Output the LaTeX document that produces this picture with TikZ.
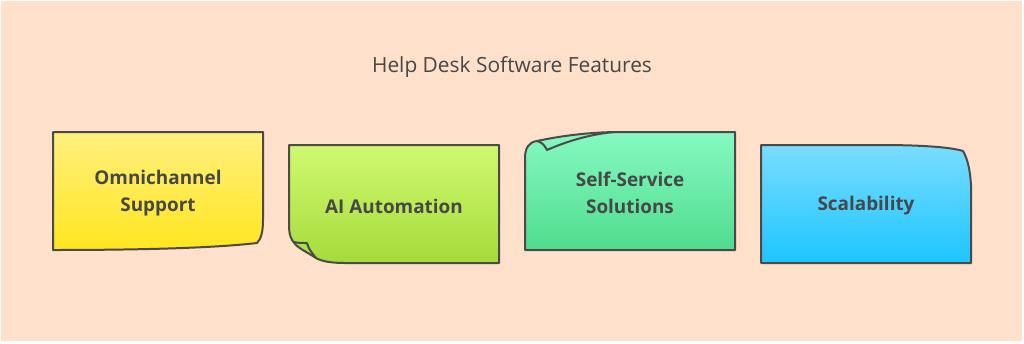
\documentclass[tikz,border=0pt]{standalone}
\usepackage{fontspec}
\setmainfont{Open Sans}
\usepackage{xcolor}
\usetikzlibrary{positioning}

\definecolor{bgpeach}{HTML}{FFE1CB}
\definecolor{edgegray}{HTML}{4A4A4A}
\definecolor{inkgray}{HTML}{474747}
\definecolor{yellowtop}{HTML}{FFF07E}
\definecolor{yellowbot}{HTML}{FFE61F}
\definecolor{limetop}{HTML}{CFF970}
\definecolor{limebot}{HTML}{A6DB3B}
\definecolor{minttop}{HTML}{86F9C1}
\definecolor{mintbot}{HTML}{4FDC8E}
\definecolor{skytop}{HTML}{7ADDFF}
\definecolor{skybot}{HTML}{1DC5FF}

\tikzset{
    note/.style={draw=edgegray, line width=2pt, line join=round},
    notetext/.style={text=inkgray, font=\bfseries\fontsize{18.9}{27}\selectfont, align=center},
}

\begin{document}
\begin{tikzpicture}[x=1pt, y=-1pt]

    % Page and peach background
    \useasboundingbox (0,0) rectangle (1024,343);
    \fill[bgpeach] (1,1) rectangle (1022,341);

    % Title
    \node[text=inkgray, font=\fontsize{20.9}{25}\selectfont] (title) at (512,67) {Help Desk Software Features};

    % Omnichannel note: bottom right corner curled in
    \shadedraw[note, top color=yellowtop, bottom color=yellowbot]
        (53,132) -- (263,132) -- (263,220)
        .. controls (263,232) and (261,239) .. (257,243)
        .. controls (215,248) and (140,250) .. (53,250) -- cycle;

    % AI Automation note: bottom left corner folded
    \shadedraw[note, top color=limetop, bottom color=limebot]
        (289,145) -- (499,145) -- (499,263) -- (345,263)
        .. controls (330,263) and (321,261) .. (316,258)
        .. controls (310,254) and (300,249) .. (296,245)
        .. controls (291,240) and (289,235) .. (289,225) -- cycle;
    \draw[note] (294,242) .. controls (299,243) .. (307,243)
                .. controls (309,249) .. (316,258);

    % Self-Service note: top left corner folded
    \shadedraw[note, top color=minttop, bottom color=mintbot]
        (525,250) -- (525,158)
        .. controls (525,148) and (529,142) .. (537,141)
        .. controls (560,136) and (590,132) .. (620,132)
        -- (735,132) -- (735,250) -- cycle;
    \draw[note] (537,141) .. controls (542,142) and (545,146) .. (547,150)
                .. controls (565,142) and (590,134) .. (615,132);

    % Scalability note: top right corner bent
    \shadedraw[note, top color=skytop, bottom color=skybot]
        (761,145) -- (880,145)
        .. controls (920,145) and (950,147) .. (963,151)
        .. controls (968,160) and (970,170) .. (971,185)
        -- (971,263) -- (761,263) -- cycle;

    % Labels
    \node[notetext] (omni) at (158,193) {Omnichannel\\Support};
    \node[notetext] (aiauto) at (394,206) {AI Automation};
    \node[notetext] (selfserv) at (630,193) {Self-Service\\Solutions};
    \node[notetext] (scaling) at (866,206) {Scalability};

\end{tikzpicture}
\end{document}
